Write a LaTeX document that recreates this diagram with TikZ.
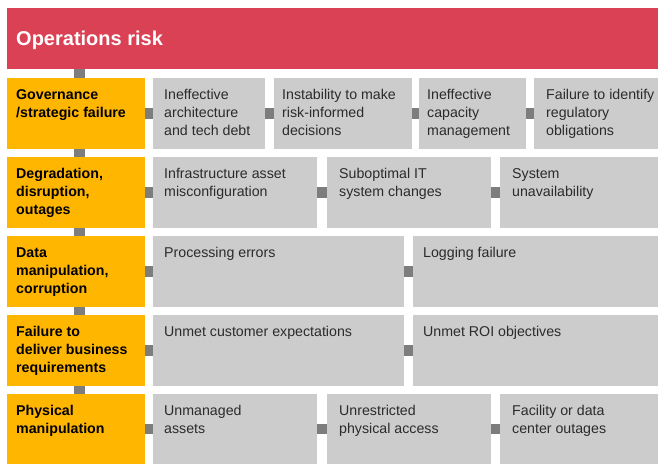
\documentclass[tikz,border=0pt]{standalone}
\usepackage{fontspec}
\setmainfont{Liberation Sans}
\usetikzlibrary{calc}

\definecolor{hdrred}{HTML}{DB4154}
\definecolor{catorange}{HTML}{FFB600}
\definecolor{itemgray}{HTML}{CCCCCC}
\definecolor{conngray}{HTML}{7D7D7D}
\definecolor{ink}{HTML}{2B2B2B}

% horizontal and vertical link squares between boxes
\newcommand{\hlink}[2]{\fill[conngray] ($(#1.east)+(0,-5.25)$) rectangle ($(#2.west)+(0,5.25)$);}
\newcommand{\vlink}[2]{\fill[conngray] ($(#1.south west)+(67,0)$) rectangle ($(#2.north west)+(78,0)$);}
% multi-line label whose base anchor is the first baseline
\newcommand{\lines}[1]{\parbox[t]{200pt}{\raggedright #1}}

\begin{document}
\begin{tikzpicture}[x=1pt,y=-1pt,
  cell/.style={inner sep=0pt,outer sep=0pt,anchor=north west,draw=none},
  hdrbox/.style={cell,fill=hdrred,minimum width=651pt,minimum height=61pt},
  catbox/.style={cell,fill=catorange,minimum width=138pt,minimum height=71pt},
  itembox/.style={cell,fill=itemgray,minimum height=71pt},
  txt/.style={inner sep=0pt,anchor=base west,font=\fontsize{14.2}{18}\selectfont,text=ink},
  cattxt/.style={txt,font=\fontsize{14.2}{18}\selectfont\bfseries,text=black},
  hdrtxt/.style={inner sep=0pt,anchor=base west,font=\fontsize{20}{24}\selectfont\bfseries,text=white}]
\useasboundingbox (0,0) rectangle (658,464);

% title bar
\node[hdrbox] (hdr) at (7,8) {};
\node[hdrtxt] (hdrt) at (16,45.5) {Operations risk};

% row 1
\node[catbox] (c1) at (7,78) {};
\node[itembox,minimum width=112pt] (i11) at (153,78) {};
\node[itembox,minimum width=138pt] (i12) at (274,78) {};
\node[itembox,minimum width=107pt] (i13) at (419,78) {};
\node[itembox,minimum width=124pt] (i14) at (534,78) {};
\node[cattxt] (c1t) at (16,99.5) {\lines{Governance\\/strategic failure}};
\node[txt] (i11t) at (164,99.5) {\lines{Ineffective\\architecture\\and tech debt}};
\node[txt] (i12t) at (282,99.5) {\lines{Instability to make\\risk-informed\\decisions}};
\node[txt] (i13t) at (427,99.5) {\lines{Ineffective\\capacity\\management}};
\node[txt] (i14t) at (546,99.5) {\lines{Failure to identify\\regulatory\\obligations}};

% row 2
\node[catbox] (c2) at (7,157) {};
\node[itembox,minimum width=164pt] (i21) at (153,157) {};
\node[itembox,minimum width=164pt] (i22) at (327,157) {};
\node[itembox,minimum width=158pt] (i23) at (500,157) {};
\node[cattxt] (c2t) at (16,178.5) {\lines{Degradation,\\disruption,\\outages}};
\node[txt] (i21t) at (164,178.5) {\lines{Infrastructure asset\\misconfiguration}};
\node[txt] (i22t) at (339,178.5) {\lines{Suboptimal IT\\system changes}};
\node[txt] (i23t) at (512,178.5) {\lines{System\\unavailability}};

% row 3
\node[catbox] (c3) at (7,236) {};
\node[itembox,minimum width=251pt] (i31) at (153,236) {};
\node[itembox,minimum width=245pt] (i32) at (413,236) {};
\node[cattxt] (c3t) at (16,257.5) {\lines{Data\\manipulation,\\corruption}};
\node[txt] (i31t) at (164,257.5) {\lines{Processing errors}};
\node[txt] (i32t) at (423,257.5) {\lines{Logging failure}};

% row 4
\node[catbox] (c4) at (7,315) {};
\node[itembox,minimum width=251pt] (i41) at (153,315) {};
\node[itembox,minimum width=245pt] (i42) at (413,315) {};
\node[cattxt] (c4t) at (16,336.5) {\lines{Failure to\\deliver business\\requirements}};
\node[txt] (i41t) at (164,336.5) {\lines{Unmet customer expectations}};
\node[txt] (i42t) at (423,336.5) {\lines{Unmet ROI objectives}};

% row 5
\node[catbox,minimum height=70pt] (c5) at (7,394) {};
\node[itembox,minimum width=164pt,minimum height=70pt] (i51) at (153,394) {};
\node[itembox,minimum width=164pt,minimum height=70pt] (i52) at (327,394) {};
\node[itembox,minimum width=158pt,minimum height=70pt] (i53) at (500,394) {};
\node[cattxt] (c5t) at (16,415.5) {\lines{Physical\\manipulation}};
\node[txt] (i51t) at (164,415.5) {\lines{Unmanaged\\assets}};
\node[txt] (i52t) at (339,415.5) {\lines{Unrestricted\\physical access}};
\node[txt] (i53t) at (512,415.5) {\lines{Facility or data\\center outages}};

% vertical spine
\vlink{hdr}{c1}
\vlink{c1}{c2}
\vlink{c2}{c3}
\vlink{c3}{c4}
\vlink{c4}{c5}

% horizontal links
\hlink{c1}{i11} \hlink{i11}{i12} \hlink{i12}{i13} \hlink{i13}{i14}
\hlink{c2}{i21} \hlink{i21}{i22} \hlink{i22}{i23}
\hlink{c3}{i31} \hlink{i31}{i32}
\hlink{c4}{i41} \hlink{i41}{i42}
\hlink{c5}{i51} \hlink{i51}{i52} \hlink{i52}{i53}
\end{tikzpicture}
\end{document}
